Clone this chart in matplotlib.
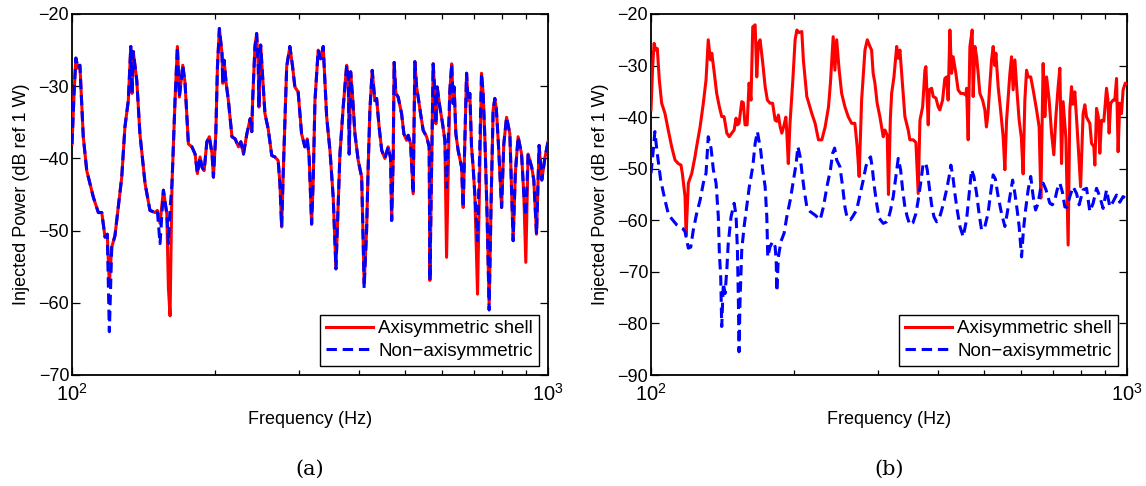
import matplotlib
matplotlib.use("Agg")
import matplotlib.pyplot as plt
from matplotlib.ticker import FixedLocator, NullFormatter

plt.rcParams['font.family'] = ['Liberation Sans', 'DejaVu Sans']
plt.rcParams['mathtext.fontset'] = 'custom'
plt.rcParams['mathtext.rm'] = 'Liberation Sans'
plt.rcParams['mathtext.it'] = 'Liberation Sans:italic'

# ---------------- data, panel (a) ----------------
freq_a = [100.0, 101.0, 101.9, 102.9, 103.9, 105.6, 107.4, 110.9, 113.6, 115.5,
          117.3, 118.6, 119.8, 121.2, 123.1, 127.2, 129.2, 131.3, 132.9, 133.7,
          134.5, 136.8, 138.9, 141.2, 142.4, 145.8, 149.5, 151.1, 153.1, 155.6,
          158.2, 159.4, 160.7, 162.2, 164.6, 166.5, 168.1, 170.9, 172.8, 175.6,
          178.6, 181.4, 183.4, 185.8, 187.5, 189.5, 192.0, 194.3, 196.9, 198.2,
          200.5, 202.1, 204.0, 206.6, 207.4, 208.7, 210.8, 213.1, 216.8, 220.2,
          223.7, 226.3, 229.2, 233.0, 236.8, 238.6, 239.6, 242.3, 244.3, 246.2,
          247.0, 249.1, 251.5, 254.3, 258.3, 262.8, 266.8, 271.1, 273.4, 275.7,
          277.8, 282.5, 286.9, 290.7, 293.9, 298.6, 303.6, 308.5, 312.0, 314.9,
          318.7, 321.2, 323.9, 329.0, 332.9, 337.1, 342.8, 348.3, 353.8, 358.5,
          362.5, 365.5, 371.3, 377.6, 380.5, 382.3, 384.9, 388.6, 393.0, 399.3,
          406.0, 409.0, 410.9, 415.8, 419.0, 422.5, 427.2, 432.8, 436.5, 441.7,
          447.4, 454.2, 461.6, 467.0, 469.4, 472.9, 475.1, 479.1, 484.4, 492.5,
          498.0, 504.7, 508.5, 514.5, 520.9, 525.2, 529.6, 533.6, 539.9, 546.7,
          555.9, 562.8, 564.8, 569.4, 573.8, 578.5, 581.4, 585.0, 592.7, 600.5,
          607.2, 612.2, 622.0, 627.7, 632.1, 635.1, 640.4, 647.5, 658.3, 663.4,
          674.4, 679.6, 685.2, 690.8, 696.2, 701.9, 711.2, 725.0, 730.7, 736.7,
          744.9, 752.2, 760.0, 766.9, 773.3, 779.1, 786.7, 799.0, 807.5, 818.4,
          831.5, 844.8, 853.9, 865.4, 880.0, 889.6, 898.2, 908.2, 924.0, 933.6,
          946.0, 957.9, 970.5, 984.7, 1000.0]

axi_a = [-38, -31, -26.1, -27.5, -27.1, -37, -41.7, -45.4, -47.5, -47.5,
         -50.9, -50.5, -57.4, -52.3, -50.7, -42.6, -35.6, -32, -24.5, -31,
         -25.2, -29.2, -36.6, -41.2, -43.5, -47.2, -47.5, -47.2, -49, -44.4,
         -47.7, -57.9, -61.8, -43.5, -32, -24.5, -31.5, -27.1, -29.6, -38,
         -38.4, -39.4, -42.1, -39.8, -41.2, -41.7, -37.7, -37, -39.4, -42.6,
         -36.6, -27.3, -22, -25.5, -29.6, -26.4, -29.6, -32, -37, -37.3,
         -38.4, -37.7, -39.4, -36.6, -34.5, -36.3, -32, -24.5, -22.7, -27.3,
         -32.9, -24.3, -28.7, -33.8, -35.9, -39.6, -39.8, -40.3, -43.5, -49.5,
         -42.1, -27.3, -24.5, -27.3, -30.1, -30.8, -36.6, -38.4, -37.3, -39.8,
         -49.1, -43, -32, -25, -26.2, -24.5, -34.3, -38.9, -45.4, -55.3,
         -46, -39.4, -32.9, -27.1, -28.7, -39.4, -28, -31.5, -36.6, -40.3,
         -42.6, -51.4, -57.4, -50, -41.2, -33.3, -27.8, -32, -31.7, -35.6,
         -38.9, -40, -38.4, -40, -48.6, -40, -26.7, -31, -31.5, -33.8,
         -36.6, -37.5, -36.8, -38, -44.9, -26.6, -30.1, -31.5, -33.8, -36.1,
         -37, -38.4, -56.9, -42, -26.9, -31, -35.2, -30.1, -32.9, -35.2,
         -37.5, -53.7, -30.6, -26.9, -32.4, -30.1, -36.6, -38.9, -41.2, -46.8,
         -28.2, -32, -31, -38.4, -41.2, -45, -58.8, -28.2, -31, -37,
         -48, -60.2, -45, -33.3, -31.7, -33.3, -38, -46.8, -38, -34.3,
         -36.6, -51.4, -42, -37, -39.4, -45, -54.4, -39.4, -41.2, -43,
         -50.5, -38.2, -43, -40, -37.7]

non_a = [-38, -31, -26.1, -27.5, -27.1, -37, -41.7, -45.4, -47.5, -47.5,
         -50.9, -50.5, -64, -52.3, -50.7, -42.6, -35.6, -32, -24.5, -31,
         -25.2, -29.2, -36.6, -41.2, -43.5, -47.2, -47.5, -47.2, -51.8, -44.4,
         -47.7, -51.8, -47, -43.5, -32, -24.5, -31.5, -27.1, -29.6, -38,
         -38.4, -39.4, -42.1, -39.8, -41.2, -41.7, -37.7, -37, -39.4, -42.6,
         -36.6, -27.3, -22, -25.5, -29.6, -26.4, -29.6, -32, -37, -37.3,
         -38.4, -37.7, -39.4, -36.6, -34.5, -36.3, -32, -24.5, -22.7, -27.3,
         -32.9, -24.3, -28.7, -33.8, -35.9, -39.6, -39.8, -40.3, -43.5, -49.5,
         -42.1, -27.3, -24.5, -27.3, -30.1, -30.8, -36.6, -38.4, -37.3, -39.8,
         -49.1, -43, -32, -25, -26.2, -24.5, -34.3, -38.9, -45.4, -55.3,
         -46, -39.4, -32.9, -27.1, -28.7, -39.4, -28, -31.5, -36.6, -40.3,
         -42.6, -51.4, -58, -50, -41.2, -33.3, -27.8, -32, -31.7, -35.6,
         -38.9, -40, -38.4, -40, -48.6, -40, -26.7, -31, -31.5, -33.8,
         -36.6, -37.5, -36.8, -38, -44.9, -26.6, -30.1, -31.5, -33.8, -36.1,
         -37, -38.4, -56.9, -42, -26.9, -31, -35.2, -30.1, -32.9, -35.2,
         -37.5, -44, -30.6, -26.9, -32.4, -30.1, -36.6, -38.9, -41.2, -46.8,
         -28.2, -32, -31, -38.4, -41.2, -45, -51.4, -28.2, -31, -37,
         -48, -61, -45, -33.3, -31.7, -33.3, -38, -46.8, -38, -34.3,
         -36.6, -51.4, -42, -37, -39.4, -45, -48, -39.4, -41.2, -43,
         -50.5, -38.2, -43, -40, -37.7]

# ---------------- data, panel (b) ----------------
freq_b_axi = [100.0, 100.8, 101.5, 102.4, 103.1, 104.1, 105.3, 107.0, 108.7, 110.5,
              112.3, 114.1, 115.6, 116.4, 117.9, 118.5, 119.8, 121.8, 123.7, 124.7,
              126.8, 128.8, 130.5, 131.9, 133.3, 134.2, 135.6, 137.4, 139.2, 140.8,
              142.4, 144.3, 146.0, 147.8, 149.5, 150.9, 151.9, 153.1, 155.1, 156.3,
              157.6, 159.2, 160.7, 162.2, 163.6, 165.5, 166.8, 168.1, 169.5, 171.7,
              173.7, 175.6, 177.9, 180.1, 182.3, 183.8, 185.2, 186.8, 188.3, 190.4,
              192.0, 192.9, 194.3, 195.8, 198.6, 200.8, 202.5, 204.7, 207.4, 209.0,
              212.5, 217.7, 221.2, 224.8, 228.5, 232.2, 236.0, 238.2, 241.4, 243.4,
              245.5, 248.5, 251.5, 255.5, 259.6, 263.9, 268.1, 271.1, 273.7, 277.0,
              281.5, 284.7, 288.4, 290.7, 292.9, 295.4, 298.6, 302.6, 307.5, 310.1,
              313.5, 315.4, 318.4, 320.3, 323.9, 328.2, 330.7, 333.4, 337.8, 341.5,
              347.0, 349.8, 355.5, 360.2, 364.2, 367.3, 372.1, 376.2, 378.0, 380.5,
              382.3, 384.2, 388.6, 391.6, 396.8, 401.2, 404.4, 409.8, 414.3, 417.8,
              421.0, 424.5, 428.1, 431.3, 437.0, 441.7, 447.4, 452.7, 458.7, 460.2,
              463.8, 467.7, 472.9, 475.1, 479.1, 483.1, 486.8, 490.8, 497.3, 502.8,
              506.6, 510.5, 514.7, 519.4, 523.4, 527.7, 530.3, 536.2, 542.5, 549.3,
              553.9, 558.5, 567.5, 572.1, 576.5, 581.4, 587.0, 593.5, 599.9, 605.0,
              610.1, 615.2, 619.9, 627.7, 635.1, 645.7, 653.8, 659.2, 666.5, 672.1,
              677.7, 686.2, 694.2, 701.9, 708.8, 716.7, 722.7, 728.6, 734.2, 744.0,
              752.2, 758.4, 764.7, 769.5, 777.0, 785.6, 799.0, 808.7, 815.5, 822.3,
              835.4, 842.4, 851.7, 855.9, 863.0, 870.6, 876.8, 884.0, 893.9, 905.7,
              911.4, 917.1, 924.0, 935.0, 942.8, 950.6, 957.9, 965.7, 973.8, 981.3,
              991.9, 1000.0]

axi_b = [-38.6, -30.2, -25.7, -27, -26.7, -32.8, -37.3, -39.3, -42.5, -45.7,
         -48.3, -49, -49.3, -51, -55.4, -62.9, -52.8, -50.9, -47.7, -45.7,
         -41.9, -37.3, -32.8, -25, -28.9, -27.6, -30.9, -35.4, -38, -39.9,
         -39.9, -43.1, -43.8, -43.1, -42.5, -40.2, -41.5, -41.2, -37, -37.2,
         -41.5, -41.5, -33.4, -36.7, -22.5, -22.1, -32.2, -25.7, -25, -29.5,
         -34.1, -36.7, -37.3, -37.3, -40.6, -40.8, -39.6, -41.9, -43.1, -41.5,
         -40, -43, -49, -41.5, -32.8, -25, -23.1, -23.6, -23.4, -29,
         -36, -39.3, -41.2, -44.4, -44.4, -41.9, -38, -33.4, -24.4, -30.9,
         -25, -30.9, -35.4, -38, -39.9, -41.2, -41.2, -45.7, -51.5, -36.7,
         -27, -25, -26.3, -27, -31.5, -33.4, -37.3, -39.9, -43.8, -42.5,
         -43.5, -55, -40, -35.4, -32.2, -26.3, -28.6, -27, -34.1, -39.9,
         -42.5, -44.4, -44.4, -44.9, -54.8, -40.6, -38, -30.9, -30.2, -36.5,
         -41.5, -34.7, -34.4, -36, -36.3, -38, -38.6, -36.7, -32.5, -32.2,
         -36.7, -23.1, -31.5, -28.3, -31.5, -34.7, -35.4, -35.4, -35.7, -34.4,
         -44.4, -26.3, -23.1, -36, -26.3, -28.3, -31.5, -35.4, -36.7, -38.6,
         -41.9, -39.3, -34.1, -28.9, -26.3, -30, -27.6, -34.1, -38.6, -43.8,
         -50.2, -40.6, -31.5, -28.3, -34.7, -28.9, -34.7, -40.6, -44, -51,
         -36.7, -30.9, -32.2, -32.2, -34.7, -38.6, -41.9, -55.7, -29.6, -39.9,
         -32.2, -36.7, -43.1, -47.3, -40, -34.1, -30.5, -49, -37, -44,
         -64.8, -38.6, -34.1, -37.5, -35.1, -42, -53.5, -39.3, -37.6, -40,
         -41.2, -45.1, -45.7, -49.3, -38.3, -40, -47, -40.6, -40.8, -34.4,
         -36.5, -43.1, -37.3, -36.7, -36.7, -32.5, -46.7, -37.3, -39.3, -34.7,
         -33.4, -33.5]

freq_b_non = [100.0, 100.8, 101.9, 102.9, 104.8, 107.0, 108.7, 110.5, 113.3, 116.6,
              117.9, 119.8, 121.2, 122.7, 124.7, 126.8, 128.8, 130.5, 131.9, 133.7,
              135.2, 137.0, 138.5, 139.2, 140.1, 140.8, 141.9, 143.1, 144.3, 145.3,
              147.3, 149.5, 150.9, 151.9, 152.6, 153.1, 153.8, 155.1, 156.9, 158.9,
              160.9, 163.6, 165.5, 167.3, 170.0, 171.7, 173.7, 175.1, 175.9, 177.9,
              180.3, 182.3, 183.2, 183.8, 185.2, 187.5, 190.4, 192.9, 196.1, 199.2,
              201.8, 203.5, 205.8, 207.7, 209.8, 212.5, 215.9, 221.2, 226.7, 230.3,
              234.2, 238.2, 240.8, 243.1, 245.5, 249.4, 252.7, 255.5, 258.3, 262.4,
              265.2, 270.4, 275.3, 279.2, 282.9, 286.0, 289.3, 291.8, 293.9, 297.8,
              301.5, 307.5, 312.6, 314.9, 318.7, 322.8, 327.0, 330.7, 334.5, 337.8,
              341.5, 345.3, 349.8, 355.0, 360.2, 364.2, 368.5, 373.1, 378.0, 380.5,
              384.2, 388.6, 393.0, 398.2, 404.4, 410.9, 417.8, 423.0, 426.6, 430.7,
              434.9, 439.8, 445.7, 452.7, 460.2, 466.0, 471.5, 476.8, 483.1, 488.9,
              494.9, 502.8, 510.5, 516.9, 523.4, 529.0, 536.2, 545.1, 553.9, 559.3,
              567.5, 575.0, 581.4, 587.8, 593.5, 600.5, 605.8, 612.2, 619.9, 627.7,
              635.1, 642.6, 650.6, 659.2, 666.5, 675.3, 688.5, 696.9, 705.3, 713.2,
              722.7, 731.5, 740.3, 747.5, 758.4, 770.6, 783.5, 793.3, 808.7, 822.3,
              835.4, 848.8, 863.0, 876.8, 890.8, 905.7, 920.3, 933.6, 950.6, 965.7,
              981.3, 1000.0]

non_b = [-50.9, -47.7, -42.8, -46.5, -52.2, -56.1, -58.7, -59.7, -60.9, -61.6,
         -62.2, -65.4, -65.2, -61.9, -58.7, -56.1, -52.8, -50.9, -43.8, -46,
         -50.2, -52.8, -59.3, -66.4, -70.9, -80.6, -72.2, -74.2, -69.6, -64.5,
         -59.3, -56.7, -59, -65.8, -75.5, -85.5, -76, -65.8, -61.2, -57.4,
         -53.5, -49.6, -45.1, -42.8, -46.4, -50.2, -53.5, -59.3, -67.1, -65.1,
         -64.1, -65.1, -67.7, -73.8, -67.1, -64.1, -62.5, -59.3, -56.1, -52.2,
         -49, -45.7, -47.7, -51, -54.1, -57.4, -58.3, -59, -59.9, -57.4,
         -53.5, -50.2, -47, -46, -48.3, -49.6, -53.5, -57.4, -59.6, -59.9,
         -59.3, -58, -54.8, -52.2, -49.5, -48.3, -47.7, -50, -52.8, -56.7,
         -59.6, -60.6, -60.3, -59.9, -58, -55.4, -51.5, -48, -50.2, -54.1,
         -57.4, -59.3, -60.9, -60.5, -58.7, -56.1, -52.8, -49, -49, -50.2,
         -53.5, -57, -59.3, -60.3, -59.3, -57, -54.1, -51.5, -49.3, -51.5,
         -54.8, -58, -61.2, -63.2, -59.9, -54.8, -50.2, -51.5, -54.8, -58.7,
         -61.9, -61.2, -58.7, -54.8, -51.2, -52, -55.4, -58.7, -61.2, -59,
         -55.4, -52.2, -54.8, -58, -61.2, -67.1, -62, -58, -54.1, -51.5,
         -55.4, -58, -56.7, -53.5, -52.8, -54, -56.7, -57, -56.1, -54.1,
         -52.8, -54.5, -57.4, -57.5, -55.4, -53.5, -54.8, -57, -54.1, -53.8,
         -58.3, -56.7, -53.8, -55.4, -57.7, -54.1, -57.4, -56.5, -55.1, -56.5,
         -55.4, -56]

series_labels = ['Axisymmetric shell', 'Non\u2212axisymmetric']
panel_labels = ['(a)', '(b)']
y_ranges = [(-70, -20), (-90, -20)]

# ---------------- figure ----------------
fig = plt.figure(figsize=(11.46, 4.86), dpi=100)
W, H = 1146.0, 486.0
ax_a = fig.add_axes([72 / W, 1 - 375 / H, 476 / W, 361 / H])
ax_b = fig.add_axes([651 / W, 1 - 375 / H, 476 / W, 361 / H])

panels = [
    (ax_a, freq_a, axi_a, freq_a, non_a),
    (ax_b, freq_b_axi, axi_b, freq_b_non, non_b),
]

for i, (ax, fr, yr, fbn, yb) in enumerate(panels):
    ax.plot(fr, yr, color='#ff0000', lw=2.2, solid_joinstyle='round',
            label=series_labels[0], zorder=3)
    ax.plot(fbn, yb, color='#0000ff', lw=2.2, linestyle=(0, (3.4, 1.9)),
            label=series_labels[1], zorder=4)
    ax.set_xscale('log')
    ax.set_xlim(100, 1000)
    lo, hi = y_ranges[i]
    ax.set_ylim(lo, hi)
    ax.set_yticks(list(range(lo, hi + 1, 10)))
    ax.xaxis.set_major_locator(FixedLocator([100, 1000]))
    ax.set_xticklabels(['$10^{2}$', '$10^{3}$'])
    ax.xaxis.set_minor_locator(FixedLocator([200, 300, 400, 500, 600, 700, 800, 900]))
    ax.xaxis.set_minor_formatter(NullFormatter())
    ax.tick_params(which='both', direction='in', top=True, right=True,
                   labelsize=13, width=0.9)
    ax.tick_params(axis='x', which='major', labelsize=14.5, pad=6)
    ax.tick_params(which='major', length=6)
    ax.tick_params(which='minor', length=3.5)
    ax.tick_params(axis='y', which='major', pad=2)
    for sp in ax.spines.values():
        sp.set_linewidth(1.3)
    ax.set_xlabel('Frequency (Hz)', fontsize=13)
    ax.xaxis.set_label_coords(0.5, -0.1)
    ax.set_ylabel('Injected Power (dB ref 1 W)', fontsize=13)
    ax.yaxis.set_label_coords(-0.088, 0.5)
    leg = ax.legend(loc='lower right', fontsize=13.5, fancybox=False,
                    edgecolor='black', framealpha=1, borderpad=0.3,
                    handlelength=2.5, handletextpad=0.3, labelspacing=0.3,
                    borderaxespad=0.5)
    leg.get_frame().set_linewidth(1.0)
    fig.text((72 + 238 + i * 579) / W, 1 - 469 / H, panel_labels[i],
             ha='center', va='center', fontsize=15,
             family=['DejaVu Serif'])

fig.savefig('out.png', dpi=100, facecolor='white')
